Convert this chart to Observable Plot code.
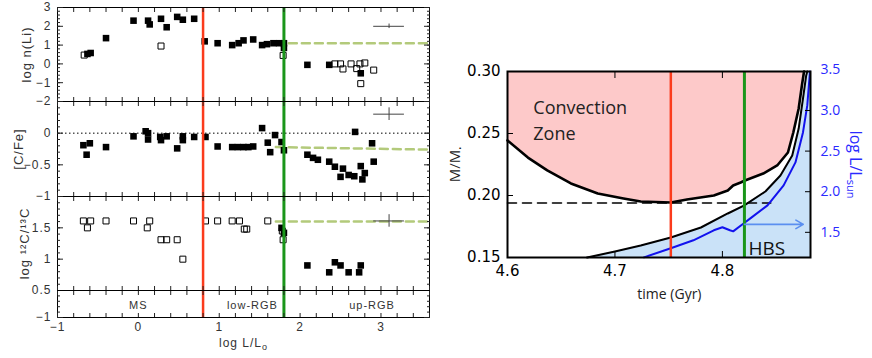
<!DOCTYPE html>
<html><head><meta charset="utf-8">
<script src="https://cdn.jsdelivr.net/npm/d3@7"></script>
<script src="https://cdn.jsdelivr.net/npm/@observablehq/plot@0.6"></script>
<style>
body{margin:0;background:#fff;}
#fig{position:relative;width:872px;height:358px;overflow:hidden;background:#fff;}
</style></head><body><div id="fig"></div>
<script>
// ---------- LEFT FIGURE DATA (x = log L/L0) ----------
const liFilledX = [-0.63,-0.59,-0.40,-0.06,0.12,0.14,0.28,0.35,0.48,0.55,0.69,0.82,0.98,1.16,1.24,1.30,1.42,1.53,1.59,1.67,1.74,1.80,1.80,2.09,2.36,2.75];
const liFilledY = [0.53,0.58,1.37,2.30,2.30,2.10,2.40,1.95,2.50,2.35,2.40,1.20,1.10,1.00,1.10,1.25,1.30,1.00,1.05,1.10,1.10,1.10,0.85,-0.05,-0.05,-0.50];
const liOpenX = [-0.67,0.28,1.79,2.43,2.50,2.53,2.63,2.70,2.74,2.80,2.75,2.91];
const liOpenY = [0.47,0.95,0.45,0.00,0.00,-0.27,0.00,-0.25,0.00,0.05,-1.05,-0.33];
const liFitX = [1.70, 3.60];
const liFitY = [1.10, 1.10];

const cfeX = [-0.68,-0.64,-0.60,-0.40,-0.06,0.09,0.12,0.12,0.27,0.28,0.35,0.48,0.55,0.55,0.69,0.83,0.98,1.16,1.23,1.30,1.36,1.42,1.53,1.60,1.63,1.69,1.77,1.80,2.09,2.16,2.22,2.36,2.43,2.50,2.53,2.60,2.67,2.75,2.77,2.80,2.68,2.89,2.91];
const cfeY = [-0.19,-0.34,-0.16,-0.22,-0.05,0.03,0.00,-0.10,-0.06,-0.11,-0.05,-0.24,-0.05,-0.11,-0.06,-0.06,-0.21,-0.22,-0.22,-0.22,-0.22,-0.21,0.08,-0.15,-0.30,-0.03,-0.14,-0.27,-0.34,-0.39,-0.42,-0.45,-0.53,-0.69,-0.56,-0.66,-0.68,-0.52,-0.73,-0.63,0.02,-0.16,-0.45];
const cfeFitX = [1.70, 3.60];
const cfeFitY = [-0.22, -0.26];

const ratioOpenX = [-0.68,-0.63,-0.59,-0.40,-0.06,0.11,0.14,0.28,0.35,0.48,0.55,0.83,0.98,1.16,1.25,1.31,1.34,1.60,1.78,1.79];
const ratioOpenY = [1.61,1.50,1.61,1.61,1.61,1.50,1.61,1.31,1.31,1.31,1.00,1.61,1.61,1.61,1.61,1.48,1.48,1.61,1.45,1.31];
const ratioFilledX = [1.77,1.80,2.09,2.36,2.43,2.50,2.60,2.73,2.75];
const ratioFilledY = [1.50,1.42,0.90,0.79,0.95,0.90,0.79,0.79,0.90];
const ratioFitX = [1.70, 3.60];
const ratioFitY = [1.60, 1.60];

// typical error bars [x, y, xerr, yerr]
const liErr = [3.10, 2.00, 0.19, 0.12];
const cfeErr = [3.10, 0.30, 0.19, 0.10];
const ratioErr = [3.10, 1.61, 0.19, 0.10];

const phaseLabels = ["MS", "low-RGB", "up-RGB"];
const phaseLabelX = [0.0, 1.41, 2.89];
const phaseLabelY = [-0.78, -0.78, -0.78];
const leftBoundaries = [0.8, 1.8];          // red, green
const leftXTickLabels = [-1, 0, 1, 2, 3];

// ---------- RIGHT FIGURE DATA (x = time, Gyr) ----------
const czTime = [4.600,4.619,4.637,4.659,4.684,4.708,4.724,4.752,4.767,4.792,4.805,4.810,4.817,4.821,4.838,4.851,4.861,4.866,4.871,4.874,4.876];
const czMass = [0.2444,0.2306,0.2202,0.2097,0.2016,0.1976,0.1952,0.1944,0.1968,0.2000,0.2040,0.2081,0.2105,0.2121,0.2177,0.2242,0.2347,0.2508,0.2702,0.2887,0.3000];
const shellTime = [4.674,4.700,4.724,4.752,4.780,4.805,4.820,4.840,4.854,4.865,4.871,4.875,4.878,4.879];
const shellMass = [0.1500,0.1548,0.1597,0.1661,0.1742,0.1855,0.1919,0.2032,0.2161,0.2323,0.2540,0.2782,0.2968,0.3000];
const lumTime = [4.727,4.752,4.773,4.792,4.800,4.807,4.810,4.820,4.826,4.842,4.857,4.868,4.875,4.879,4.881,4.8815];
const lumLogL = [1.192,1.303,1.402,1.525,1.562,1.525,1.512,1.611,1.672,1.832,2.078,2.361,2.730,3.062,3.394,3.480];
const coreTime = [4.600, 4.845];
const coreMass = [0.194, 0.194];
const bumpTime = [4.752];
const hbsTime = [4.8205];
const arrowTime = [4.8205, 4.8753];
const arrowLogL = [1.598, 1.598];
const massTicks = [0.15, 0.20, 0.25, 0.30];
const timeTicks = [4.6, 4.7, 4.8];
const lumTicks = [1.5, 2.0, 2.5, 3.0, 3.5];
const lumDomain = [1.19, 3.48];
const massDomain = [0.15, 0.30];
const timeDomain = [4.6, 4.882];

// ---------- helpers ----------
const fig = document.getElementById("fig");
const zip = (a, b) => a.map((v, i) => [v, b[i]]);
const minus = d => String(d).replace("-", "\u2212");
const RED = "#fb3b1c", GREEN = "#1a961a", FIT = "#b3ca7b";
const xTicksL = d3.range(-5, 19).map(i => i / 5);
const baseStyleL = top => ({position: "absolute", left: "0px", top: top + "px", background: "transparent",
  overflow: "visible", fontFamily: "'Liberation Sans', Arial, sans-serif", fontSize: "12px", letterSpacing: "1px", color: "#222"});

function subscript(svg, full, base, subText, size, shift) {
  const ns = "http://www.w3.org/2000/svg";
  svg.querySelectorAll("text").forEach(t => {
    if (t.textContent === full) {
      t.textContent = "";
      const a = document.createElementNS(ns, "tspan"); a.textContent = base; t.appendChild(a);
      const b = document.createElementNS(ns, "tspan"); b.textContent = subText;
      b.setAttribute("font-size", size); b.setAttribute("dy", shift); t.appendChild(b);
    }
  });
}

function leftPanel({top, height, mb = 0, mt = 0, yDomain, yMajor, yMinor, yLabels, marks}) {
  const svg = Plot.plot({
    width: 440, height: height + mt + mb, marginLeft: 57, marginRight: 11, marginTop: mt, marginBottom: mb,
    x: {domain: [-1, 3.6]}, y: {domain: yDomain},
    style: baseStyleL(top - mt),
    marks: [
      ...marks,
      Plot.ruleX(leftBoundaries, {stroke: [RED, GREEN], strokeWidth: [2.5, 3]}),
      Plot.frame({stroke: "black"}),
      Plot.axisX({anchor: "top", ticks: xTicksL, tickSize: -4, fill: "none", label: null}),
      Plot.axisX({anchor: "bottom", ticks: xTicksL, tickSize: -4, fill: "none", label: null}),
      Plot.axisY({anchor: "left", ticks: yMajor, tickSize: -6, fill: "none", label: null}),
      Plot.axisY({anchor: "left", ticks: yMinor, tickSize: -3, fill: "none", label: null}),
      Plot.axisY({anchor: "right", ticks: yMajor, tickSize: -6, fill: "none", label: null}),
      Plot.axisY({anchor: "right", ticks: yMinor, tickSize: -3, fill: "none", label: null}),
      Plot.axisY({anchor: "left", ticks: yLabels, tickSize: 0, tickPadding: 6, tickFormat: minus, fill: "#333", label: null})
    ]
  });
  fig.appendChild(svg);
  return svg;
}

const errMarks = e => [
  Plot.ruleY([e], {y: d => d[1], x1: d => d[0] - d[2], x2: d => d[0] + d[2], stroke: "#444"}),
  Plot.ruleX([e], {x: d => d[0], y1: d => d[1] - d[3], y2: d => d[1] + d[3], stroke: "#444"})
];
const sq = 3.7, sqo = 3.4;
const yTitle = (label, dx) => Plot.text([label], {frameAnchor: "left", textAnchor: "middle", dx, rotate: -90, fontSize: 13, fill: "#333"});

// top panel: log n(Li)
leftPanel({top: 7, mt: 7, height: 94, yDomain: [-2, 3], yMajor: d3.range(-2, 4),
  yMinor: d3.range(-10, 16).map(i => i / 5), yLabels: [-2, -1, 0, 1, 2, 3],
  marks: [
    Plot.line(zip(liFitX, liFitY), {stroke: FIT, strokeWidth: 2.5, strokeDasharray: "8,5"}),
    Plot.dot(zip(liOpenX, liOpenY), {symbol: "square", r: sqo, stroke: "black", fill: "none", strokeWidth: 1}),
    Plot.dot(zip(liFilledX, liFilledY), {symbol: "square", r: sq, fill: "black"}),
    ...errMarks(liErr),
    yTitle("log n(Li)", -31)
  ]});

// middle panel: [C/Fe]
leftPanel({top: 101, height: 95, yDomain: [-1, 0.5], yMajor: [-1, -0.5, 0, 0.5],
  yMinor: d3.range(-10, 6).map(i => i / 10), yLabels: [-1, -0.5, 0],
  marks: [
    Plot.ruleY([0], {stroke: "black", strokeDasharray: "1.5,2.5"}),
    Plot.line(zip(cfeFitX, cfeFitY), {stroke: FIT, strokeWidth: 2.5, strokeDasharray: "8,5"}),
    Plot.dot(zip(cfeX, cfeY), {symbol: "square", r: sq, fill: "black"}),
    ...errMarks(cfeErr),
    yTitle("[C/Fe]", -39)
  ]});

// bottom panel: 12C/13C
leftPanel({top: 196, height: 94, yDomain: [0.5, 2.0], yMajor: [0.5, 1, 1.5, 2],
  yMinor: d3.range(5, 21).map(i => i / 10), yLabels: [0.5, 1, 1.5],
  marks: [
    Plot.line(zip(ratioFitX, ratioFitY), {stroke: FIT, strokeWidth: 2.5, strokeDasharray: "8,5"}),
    Plot.dot(zip(ratioOpenX, ratioOpenY), {symbol: "square", r: sqo, stroke: "black", fill: "none", strokeWidth: 1}),
    Plot.dot(zip(ratioFilledX, ratioFilledY), {symbol: "square", r: sq, fill: "black"}),
    ...errMarks(ratioErr),
    yTitle("log \u00B9\u00B2C/\u00B9\u00B3C", -33)
  ]});

// strip with evolutionary phases + x axis
const strip = leftPanel({top: 290, height: 27, mb: 60, yDomain: [-1, -0.5], yMajor: [-1],
  yMinor: [-0.9, -0.8, -0.7, -0.6], yLabels: [-1],
  marks: [
    Plot.text(phaseLabels, {x: (d, i) => phaseLabelX[i], y: (d, i) => phaseLabelY[i], fontSize: 11, fill: "#333"}),
    Plot.axisX({anchor: "bottom", ticks: leftXTickLabels, tickSize: 0, tickPadding: 5, tickFormat: minus, fill: "#333", label: null}),
    Plot.text(["log L/Lo"], {frameAnchor: "bottom", textAnchor: "middle", dy: 29, fill: "#333"})
  ]});
subscript(strip, "log L/Lo", "log L/L", "o", 9, "0.35em");

// ---------- RIGHT FIGURE ----------
const toM = d3.scaleLinear().domain(lumDomain).range(massDomain);
const czRows = zip(czTime, czMass);
const shellRows = zip(shellTime, shellMass);
const blueRows = shellRows.concat([[timeDomain[1], massDomain[1]]]);
const lumRows = zip(lumTime, lumLogL.map(toM));
const right = Plot.plot({
  width: 442, height: 358, marginLeft: 77, marginRight: 62, marginTop: 71, marginBottom: 101,
  x: {domain: timeDomain}, y: {domain: massDomain},
  style: {position: "absolute", left: "430px", top: "0px", background: "transparent", overflow: "visible",
    fontFamily: "'DejaVu Sans', sans-serif", fontSize: "15px", color: "black"},
  marks: [
    Plot.areaY(blueRows, {x: d => d[0], y1: massDomain[0], y2: d => d[1], fill: "#cae2f8"}),
    Plot.areaY(czRows, {x: d => d[0], y1: d => d[1], y2: massDomain[1], fill: "#fdc9c9"}),
    Plot.line(zip(coreTime, coreMass), {stroke: "black", strokeWidth: 1.6, strokeDasharray: "9,6"}),
    Plot.line(shellRows, {stroke: "black", strokeWidth: 2}),
    Plot.line(czRows, {stroke: "black", strokeWidth: 2.6}),
    Plot.line(lumRows, {stroke: "#1212ee", strokeWidth: 2}),
    Plot.ruleX(bumpTime, {stroke: RED, strokeWidth: 2.5}),
    Plot.ruleX(hbsTime, {stroke: GREEN, strokeWidth: 3}),
    Plot.arrow([0], {x1: arrowTime[0], x2: arrowTime[1], y1: toM(arrowLogL[0]), y2: toM(arrowLogL[1]),
      stroke: "#5b8ff0", strokeWidth: 1.6, headLength: 8, bend: 0}),
    Plot.text(["HBS"], {x: hbsTime[0] + 0.0037, y: 0.1518, textAnchor: "start", lineAnchor: "bottom",
      fontFamily: "'Open Sans', sans-serif", fontSize: 19, fill: "#111"}),
    Plot.text(["Convection\nZone"], {x: 4.624, y: 0.2806, textAnchor: "start", lineAnchor: "top", lineHeight: 1.44,
      fontFamily: "'Open Sans', sans-serif", fontSize: 18, fill: "#222"}),
    Plot.frame({stroke: "black", strokeWidth: 2}),
    Plot.axisX({anchor: "top", ticks: [4.7, 4.8], tickSize: -6, fill: "none", label: null}),
    Plot.axisX({anchor: "bottom", ticks: [4.7, 4.8], tickSize: -6, fill: "none", label: null}),
    Plot.axisX({anchor: "bottom", ticks: timeTicks, tickSize: 0, tickPadding: 8, tickFormat: d3.format(".1f"), label: null}),
    Plot.axisY({anchor: "left", ticks: [0.20, 0.25], tickSize: -6, fill: "none", label: null}),
    Plot.axisY({anchor: "left", ticks: massTicks, tickSize: 0, tickPadding: 7, tickFormat: d3.format(".2f"), label: null}),
    Plot.axisY({anchor: "right", ticks: lumTicks.slice(0, 4).map(toM), tickSize: -6, fill: "none", label: null}),
    Plot.axisY({anchor: "right", ticks: lumTicks.map(toM), tickSize: 0, tickPadding: 10,
      tickFormat: d => d3.format(".1f")(toM.invert(d)), fill: "#2a2aff",
      fontFamily: "'Open Sans', sans-serif", fontSize: 14, label: null}),
    Plot.text(["time (Gyr)"], {x: 4.7507, frameAnchor: "bottom", textAnchor: "middle", dy: 41,
      fontFamily: "'Open Sans', sans-serif", fontSize: 14, fill: "#222"}),
    Plot.text(["M/M*"], {frameAnchor: "left", textAnchor: "middle", dx: -52, rotate: -90,
      fontFamily: "'Open Sans', sans-serif", fontSize: 15, fill: "#222"}),
    Plot.text(["log L/Lsun"], {frameAnchor: "right", textAnchor: "middle", dx: 45, rotate: 90,
      fontFamily: "'Open Sans', sans-serif", fontSize: 16, fill: "#2a2aff"})
  ]
});
fig.appendChild(right);
subscript(right, "M/M*", "M/M", "\u2022", 8, "0.3em");
subscript(right, "log L/Lsun", "log L/L", "sun", 11, "0.35em");
</script></body></html>
